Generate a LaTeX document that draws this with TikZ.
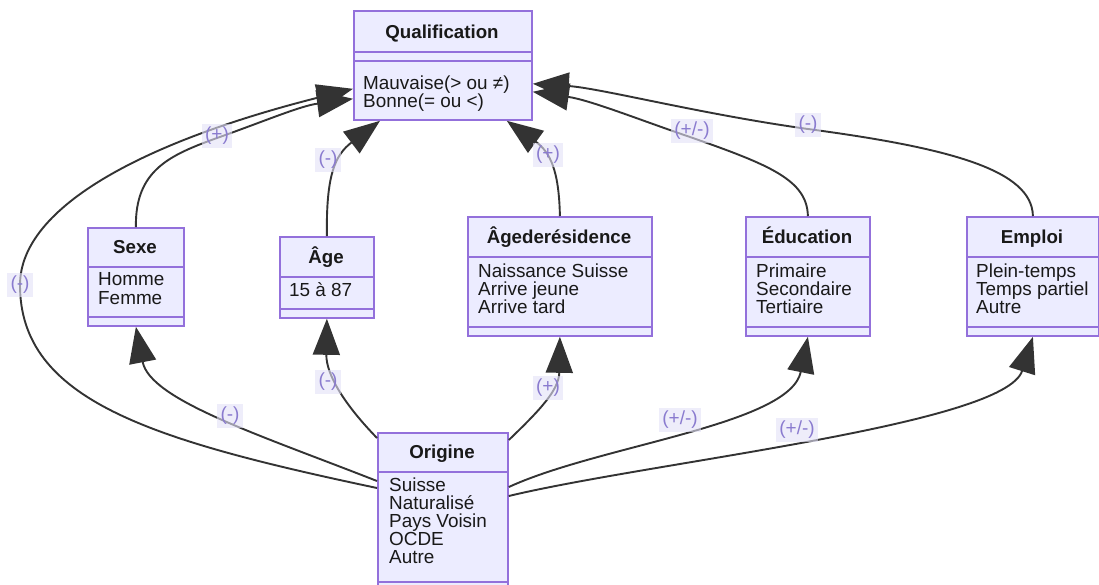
\documentclass[tikz,border=0pt]{standalone}
\usepackage{fontspec}
\setmainfont{Liberation Sans}
\usetikzlibrary{arrows.meta,calc}
\definecolor{boxfill}{HTML}{ECECFF}
\definecolor{boxline}{HTML}{9370DB}
\definecolor{edgecol}{HTML}{333333}
\definecolor{labtext}{HTML}{8A7BCF}
\definecolor{labbg}{HTML}{E4E2F8}
\begin{document}
\begin{tikzpicture}[x=1pt,y=-1pt,
  umlbox/.style={draw=boxline, fill=boxfill, line width=1.8pt, inner sep=0, anchor=north west},
  divider/.style={draw=boxline, line width=1.8pt},
  ttl/.style={font=\fontsize{18.7}{18.7}\selectfont\bfseries, text=black!90, anchor=base, inner sep=0},
  mem/.style={font=\fontsize{18.9}{18.9}\selectfont, text=black!90, anchor=base west, inner sep=0},
  rel/.style={draw=edgecol, line width=1.9pt, -{Triangle[length=36pt,width=27pt]}},
  elab/.style={fill=labbg, fill opacity=0.6, text opacity=1, text=labtext, font=\fontsize{19}{19}\selectfont, inner sep=3.5pt}
]
\useasboundingbox (0,0) rectangle (1099,584);
\clip (0,0) rectangle (1099,584);
\fill[white] (0,0) rectangle (1099,584);

% ---------- boxes ----------
\node[umlbox, minimum width=178pt, minimum height=109pt] (qual) at (353,10) {};
\draw[divider] (353,52) -- (531,52) (353,61) -- (531,61);
\node[ttl] (qualT) at (442,38.5) {Qualification};
\node[mem] (qualM1) at (363,89.5) {Mauvaise(> ou ≠)};
\node[mem] (qualM2) at (363,107.5) {Bonne(= ou <)};

\node[umlbox, minimum width=96pt, minimum height=98pt] (sexe) at (87,227) {};
\draw[divider] (87,267) -- (183,267) (87,317) -- (183,317);
\node[ttl] (sexeT) at (135,253.5) {Sexe};
\node[mem] (sexeM1) at (98,285.5) {Homme};
\node[mem] (sexeM2) at (98,304) {Femme};

\node[umlbox, minimum width=94pt, minimum height=81pt] (age) at (279,236) {};
\draw[divider] (279,277) -- (373,277) (279,309) -- (373,309);
\node[ttl] (ageT) at (326,263) {Âge};
\node[mem] (ageM1) at (289,296.5) {15 à 87};

\node[umlbox, minimum width=184pt, minimum height=119pt] (ager) at (467,216) {};
\draw[divider] (467,257) -- (651,257) (467,327) -- (651,327);
\node[ttl] (agerT) at (559,243.5) {Âgederésidence};
\node[mem] (agerM1) at (478,277) {Naissance Suisse};
\node[mem] (agerM2) at (478,295) {Arrive jeune};
\node[mem] (agerM3) at (478,313) {Arrive tard};

\node[umlbox, minimum width=124pt, minimum height=119pt] (educ) at (745,216) {};
\draw[divider] (745,257) -- (869,257) (745,327) -- (869,327);
\node[ttl] (educT) at (807,243.5) {Éducation};
\node[mem] (educM1) at (756,277) {Primaire};
\node[mem] (educM2) at (756,295) {Secondaire};
\node[mem] (educM3) at (756,313) {Tertiaire};

\node[umlbox, minimum width=132pt, minimum height=119pt] (emploi) at (966,216) {};
\draw[divider] (966,257) -- (1098,257) (966,327) -- (1098,327);
\node[ttl] (emploiT) at (1032,243.5) {Emploi};
\node[mem] (emploiM1) at (976,277) {Plein-temps};
\node[mem] (emploiM2) at (976,295) {Temps partiel};
\node[mem] (emploiM3) at (976,313) {Autre};

\node[umlbox, minimum width=130pt, minimum height=170pt] (orig) at (377,432) {};
\draw[divider] (377,472) -- (507,472) (377,582) -- (507,582);
\node[ttl] (origT) at (442,458.5) {Origine};
\node[mem] (origM1) at (389,491) {Suisse};
\node[mem] (origM2) at (389,509) {Naturalisé};
\node[mem] (origM3) at (389,527) {Pays Voisin};
\node[mem] (origM4) at (389,545) {OCDE};
\node[mem] (origM5) at (389,563) {Autre};

% ---------- named end points ----------
\coordinate (qL1) at ($(qual.south west)+(0,-32)$);
\coordinate (qL2) at ($(qual.south west)+(0,-22)$);
\coordinate (qB1) at ($(qual.south west)+(27,0)$);
\coordinate (qB2) at ($(qual.south east)+(-26,0)$);
\coordinate (qR1) at ($(qual.south east)+(0,-37)$);
\coordinate (qR2) at ($(qual.south east)+(0,-29)$);
\coordinate (oL1) at ($(orig.north west)+(0,56)$);
\coordinate (oL2) at ($(orig.north west)+(0,49)$);
\coordinate (oT1) at ($(orig.north west)+(0,6)$);
\coordinate (oT2) at ($(orig.north east)+(0,8)$);
\coordinate (oR1) at ($(orig.north east)+(0,55)$);
\coordinate (oR2) at ($(orig.north east)+(0,64)$);
\coordinate (m1) at (20,285);
\coordinate (m2) at (217,138);
\coordinate (m5) at (690,137);
\coordinate (m6) at (808,129);

% ---------- edges ----------
\draw[rel] (oL1) .. controls (150,440) and (20,400) .. (m1) .. controls (20,205) and (150,140) .. (qL1);
\draw[rel] (sexe.north) .. controls (135,170) and (170,155) .. (m2) .. controls (265,121) and (300,106) .. (qL2);
\draw[rel] (age.north) .. controls (326,175) and (335,155) .. (qB1);
\draw[rel] (ager.north) .. controls (559,170) and (550,152) .. (qB2);
\draw[rel] (educ.north) .. controls (807,180) and (770,165) .. (m5) .. controls (640,120) and (590,100) .. (qR2);
\draw[rel] (emploi.north) .. controls (1032,170) and (950,148) .. (m6) .. controls (700,114) and (600,88) .. (qR1);
\draw[rel] (oL2) .. controls (260,435) and (150,400) .. (sexe.south);
\draw[rel] (oT1) .. controls (345,405) and (326,375) .. (age.south);
\draw[rel] (oT2) .. controls (540,410) and (559,390) .. (ager.south);
\draw[rel] (oR1) .. controls (600,445) and (790,425) .. (educ.south);
\draw[rel] (oR2) .. controls (650,462) and (1005,425) .. (emploi.south);

% ---------- labels ----------
\node[elab] (l1) at (20,285) {(-)};
\node[elab] (l2) at (217,136) {(+)};
\node[elab] (l3) at (328,160) {(-)};
\node[elab] (l4) at (548,155) {(+)};
\node[elab] (l5) at (692,131) {(+/-)};
\node[elab] (l6) at (808,125) {(-)};
\node[elab] (l7) at (230,416) {(-)};
\node[elab] (l8) at (328,382) {(-)};
\node[elab] (l9) at (548,388) {(+)};
\node[elab] (l10) at (680,420) {(+/-)};
\node[elab] (l11) at (797,430) {(+/-)};
\end{tikzpicture}
\end{document}
